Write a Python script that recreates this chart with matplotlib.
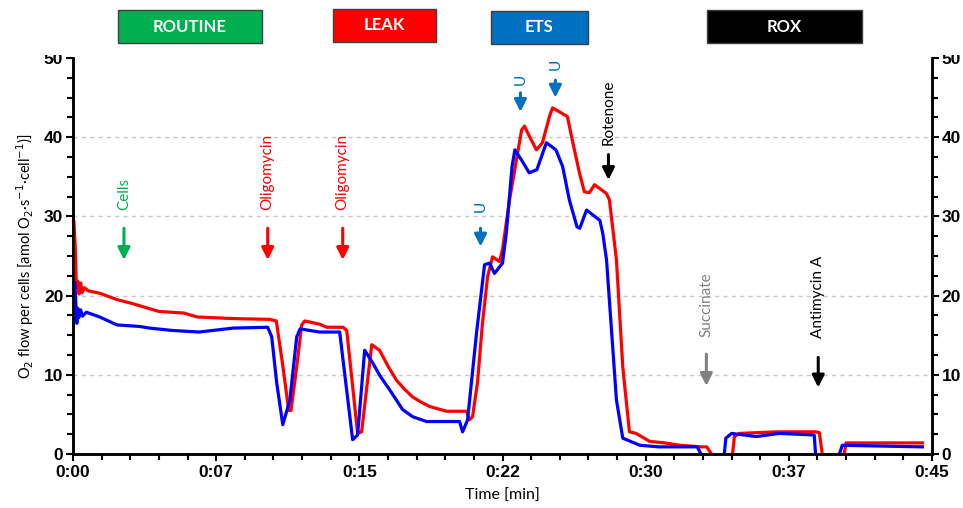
import numpy as np
import matplotlib
matplotlib.use("Agg")
import matplotlib.pyplot as plt
from matplotlib.patches import Rectangle

# O2 flow traces, time in minutes; None marks gaps in the recording
red_t = [0.05, 0.12, 0.18, 0.25, 0.32, 0.4, 0.48, 0.6, 0.8, 1.4, 2.3, 3.1, 4.5, 5.8, 6.5, 8.4,
         10.3, 10.65, 11.0, 11.3, 11.42, 11.72, 11.98, 12.14, 12.9, 13.3, 14.0, 14.15, 14.34,
         14.91, 15.12, 15.65, 16.06, 16.5, 16.95, 17.4, 17.79, 18.2, 18.68, 19.57, 20.62, 20.77,
         20.93, 21.19, 21.45, 21.72, 21.98, 22.34, 22.5, 22.87, 23.5, 23.65, 23.91, 24.28, 24.59,
         24.96, 25.12, 25.48, 25.9, 26.16, 26.53, 26.79, 27.05, 27.32, 27.94, 28.1, 28.47, 28.8,
         29.15, 29.5, 30.2, 31.0, 31.8, 32.9, 33.2, 33.45,
         33.5, 34.5, 34.55, 34.65, 34.9, 36.85, 38.9, 39.1, 39.25, 39.3, 40.35, 40.4, 40.5, 44.5]
red_v = [29.3, 26.0, 21.0, 21.8, 20.2, 21.6, 20.4, 21.0, 20.6, 20.3, 19.5, 19.0, 18.0, 17.8, 17.3, 17.1,
         17.0, 16.8, 11.0, 5.5, 5.5, 11.0, 16.3, 16.8, 16.4, 16.0, 16.0, 16.0, 15.6,
         2.6, 2.8, 13.8, 13.1, 11.1, 9.3, 8.1, 7.2, 6.6, 6.0, 5.4, 5.4, 4.3,
         4.7, 9.0, 16.5, 22.4, 24.9, 24.3, 25.8, 32.1, 40.9, 41.4, 40.1, 38.4, 39.3,
         42.6, 43.7, 43.2, 42.6, 39.6, 35.5, 33.1, 33.0, 34.0, 32.9, 32.1, 24.5, 11.0,
         2.8, 2.6, 1.6, 1.4, 1.1, 0.9, 0.9, 0.0,
         None, None, 0.0, 2.2, 2.6, 2.8, 2.8, 2.7, 0.0, None, None, 0.0, 1.4, 1.4]

blue_t = [0.1, 0.15, 0.2, 0.25, 0.3, 0.4, 0.5, 0.7, 1.4, 2.3, 3.5, 4.0, 5.2, 6.6, 8.4, 10.2,
          10.41, 10.67, 10.99, 11.36, 11.72, 11.9, 12.9, 13.45, 13.97, 14.65, 14.91, 15.28, 15.7,
          16.1, 16.59, 17.27, 17.8, 18.52, 20.25, 20.41, 20.67, 21.14, 21.56, 21.82, 22.08, 22.5,
          22.7, 23.0, 23.15, 23.5, 23.9, 24.3, 24.8, 25.3, 25.65, 26.0, 26.4, 26.55, 26.9, 27.6,
          27.75, 27.95, 28.47, 28.8, 29.0, 29.7, 30.7, 31.8, 32.7, 32.9, 32.95, 34.1, 34.12, 34.2,
          34.5, 35.8, 37.0, 38.83, 38.9, 38.95, 40.1, 40.15, 40.3, 44.5]
blue_v = [21.6, 19.0, 16.5, 18.4, 17.2, 18.2, 17.4, 17.9, 17.3, 16.3, 16.1, 15.9, 15.6, 15.4, 15.9, 16.0,
          14.8, 9.0, 3.7, 6.8, 14.8, 15.8, 15.4, 15.4, 15.4, 1.8, 2.4, 13.1, 11.5,
          9.8, 8.1, 5.6, 4.7, 4.1, 4.1, 2.8, 4.3, 15.3, 23.9, 24.1, 22.8, 24.1,
          27.9, 36.3, 38.4, 37.1, 35.5, 35.9, 39.3, 38.4, 36.3, 32.1, 28.7, 28.5, 30.8, 29.5,
          27.9, 24.5, 6.8, 2.0, 1.8, 1.1, 0.9, 0.9, 0.9, 0.0, None, None, 0.0, 2.0,
          2.6, 2.2, 2.6, 2.4, 0.0, None, None, 0.0, 1.1, 0.9]

# titration events: label, time [min], arrow tail, arrow tip, label bottom, colour
ev_names = ["Cells", "Oligomycin", "Oligomycin", "U", "U", "U", "Rotenone", "Succinate", "Antimycin A"]
ev_times = [2.67, 10.2, 14.13, 21.35, 23.44, 25.27, 28.05, 33.18, 39.04]
ev_tail = [28.5, 28.5, 28.5, 28.5, 45.6, 47.2, 37.8, 12.6, 12.2]
ev_tip = [24.5, 24.5, 24.5, 26.2, 43.2, 45.0, 34.6, 8.6, 8.4]
ev_text_y = [30.8, 30.8, 30.8, 30.6, 46.6, 48.5, 39.0, 14.8, 14.6]
ev_colors = ["#00B050", "#FF0000", "#FF0000", "#0070C0", "#0070C0", "#0070C0",
             "#000000", "#808080", "#000000"]

# respiratory states shown above the plot (figure pixel boxes)
states = ["ROUTINE", "LEAK", "ETS", "ROX"]
state_colors = ["#00B050", "#FF0000", "#0070C0", "#000000"]
state_boxes = [(118, 10, 144, 33), (333, 9, 103, 33), (491, 11, 97, 33), (707, 10, 155, 33)]

W, H = 963, 508
fig = plt.figure(figsize=(W / 100, H / 100), dpi=100)
ax = fig.add_axes([73 / W, 1 - 454 / H, (932 - 73) / W, (454 - 58) / H])

ax.plot(red_t, np.array(red_v, dtype=float), color="#FF0000", lw=2.3, zorder=3,
        solid_joinstyle="round")
ax.plot(blue_t, np.array(blue_v, dtype=float), color="#0000FF", lw=2.3, zorder=3,
        solid_joinstyle="round")

ax.set_xlim(0, 45)
ax.set_ylim(0, 50)
xt = [0, 7.5, 15, 22.5, 30, 37.5, 45]
ax.set_xticks(xt)
ax.set_xticklabels(["0:00", "0:07", "0:15", "0:22", "0:30", "0:37", "0:45"])
ax.set_xticks(np.arange(0, 45.1, 1.5), minor=True)
ax.set_yticks([0, 10, 20, 30, 40, 50])
ax.set_yticks(np.arange(0, 50.1, 2.5), minor=True)

for y in [10, 20, 30, 40]:
    ax.axhline(y, color="#C8C8C8", lw=1.0, ls=(0, (3, 3)), zorder=1)

tick_font = dict(family="Liberation Sans", weight="bold", size=12.5)
ax2 = ax.twinx()
ax2.set_ylim(0, 50)
ax2.set_yticks([0, 10, 20, 30, 40, 50])
ax2.set_yticks(np.arange(0, 50.1, 2.5), minor=True)

for a in (ax, ax2):
    for s in a.spines.values():
        s.set_linewidth(1.8)
        s.set_color("black")
    a.spines["top"].set_visible(False)
    a.tick_params(which="major", length=5, width=1.5, pad=2)
    a.tick_params(which="minor", length=4, width=1.5)
    for lab in a.get_xticklabels() + a.get_yticklabels():
        lab.set_fontproperties(tick_font)
        lab.set_fontsize(12.5)
ax.tick_params(axis="x", pad=3)

ax.set_xlabel("Time [min]", family="Lato", fontsize=11.5, labelpad=6)
ax.set_ylabel("O$_2$ flow per cells [amol O$_2$·s$^{-1}$·cell$^{-1}$)]",
              family="Lato", fontsize=10.5, labelpad=6)

for name, t, y0, y1, ty, c in zip(ev_names, ev_times, ev_tail, ev_tip, ev_text_y, ev_colors):
    ax.annotate("", xy=(t, y1), xytext=(t, y0),
                arrowprops=dict(arrowstyle="-|>,head_width=0.3,head_length=0.6",
                                color=c, lw=2.2, mutation_scale=12, shrinkA=0, shrinkB=0),
                zorder=4)
    ax.text(t, ty, name, rotation=90, ha="center", va="bottom", color=c,
            family="Lato", fontsize=11, zorder=4)

# blank band at the top, state boxes drawn over it
fig.patches.append(Rectangle((0, 1 - 55 / H), 1, 55 / H, transform=fig.transFigure,
                             facecolor="white", edgecolor="none", zorder=5))
for name, c, (x, y, w, h) in zip(states, state_colors, state_boxes):
    fig.patches.append(Rectangle((x / W, 1 - (y + h) / H), w / W, h / H,
                                 transform=fig.transFigure, facecolor=c,
                                 edgecolor="#404040", lw=1.0, zorder=6))
    fig.text((x + w / 2) / W, 1 - (y + h / 2) / H, name, color="white", family="Lato",
             weight="bold", fontsize=12, ha="center", va="center", zorder=7)

fig.savefig("out.png", dpi=100)
